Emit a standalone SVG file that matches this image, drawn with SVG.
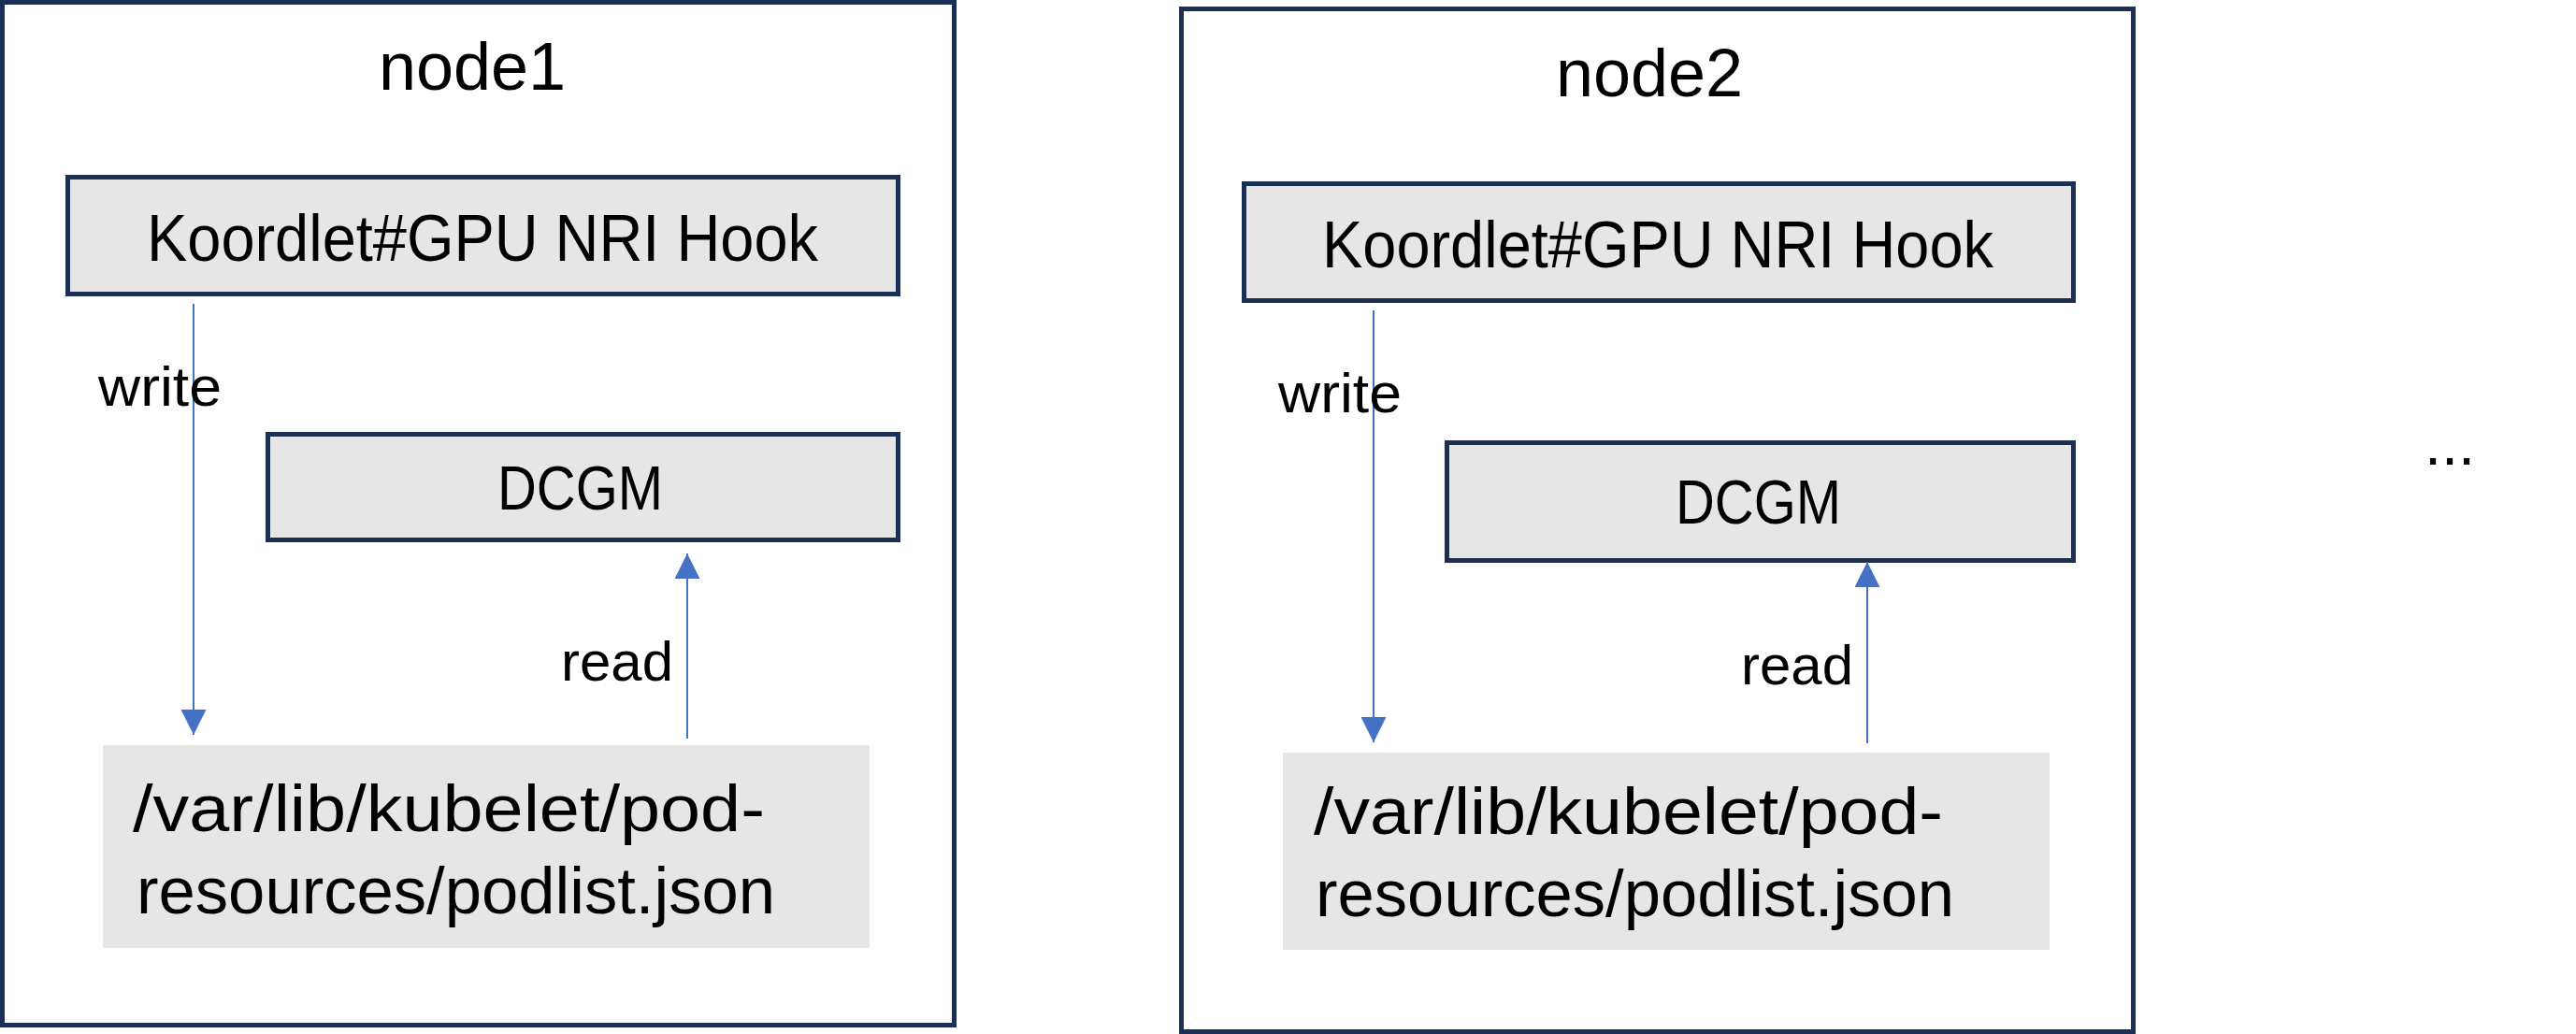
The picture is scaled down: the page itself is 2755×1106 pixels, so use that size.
<svg xmlns="http://www.w3.org/2000/svg" width="2755" height="1106" viewBox="0 0 2755 1106">
<style>
.frame{fill:#ffffff;stroke:#1b2f54;stroke-width:5}
.box{fill:#e6e6e6;stroke:#1b2f54;stroke-width:5}
.file{fill:#e6e6e6;stroke:none}
.t{font-family:"Liberation Sans",Arial,sans-serif;fill:#000000}
.conn{stroke:#4472c4;stroke-width:2;fill:none;marker-end:url(#ah)}
</style>
<defs>
<marker id="ah" viewBox="0 0 28 27" refX="27" refY="13.5" markerWidth="28" markerHeight="27" markerUnits="userSpaceOnUse" orient="auto">
<path d="M0,0 L27,13.5 L0,27 Z" fill="#4472c4"/>
</marker>
</defs>
<rect width="2755" height="1106" fill="#ffffff"/>
<g id="node1">
<rect class="frame" x="2.5" y="2.5" width="1018" height="1094"/>
<text class="t" x="505" y="96" font-size="72" text-anchor="middle">node1</text>
</g>
<g id="node1-koordlet">
<rect class="box" x="72.5" y="189.5" width="888" height="125"/>
<text class="t" x="157" y="279" font-size="70" textLength="718" lengthAdjust="spacingAndGlyphs">Koordlet#GPU NRI Hook</text>
</g>
<g id="node1-dcgm">
<rect class="box" x="286.5" y="464.5" width="674" height="113"/>
<text class="t" x="532" y="545" font-size="66" textLength="177" lengthAdjust="spacingAndGlyphs">DCGM</text>
</g>
<g id="node1-podlist">
<rect class="file" x="110" y="797" width="820" height="217"/>
<text class="t" x="142" y="889" font-size="70" textLength="676" lengthAdjust="spacingAndGlyphs">/var/lib/kubelet/pod-</text>
<text class="t" x="146" y="977" font-size="70" textLength="683" lengthAdjust="spacingAndGlyphs">resources/podlist.json</text>
</g>
<g id="node2">
<rect class="frame" x="1263.5" y="9.5" width="1018" height="1094"/>
<text class="t" x="1764" y="103" font-size="72" text-anchor="middle">node2</text>
</g>
<g id="node2-koordlet">
<rect class="box" x="1330.5" y="196.5" width="887" height="125"/>
<text class="t" x="1414" y="286" font-size="70" textLength="718" lengthAdjust="spacingAndGlyphs">Koordlet#GPU NRI Hook</text>
</g>
<g id="node2-dcgm">
<rect class="box" x="1547.5" y="473.5" width="670" height="126"/>
<text class="t" x="1792" y="560" font-size="66" textLength="177" lengthAdjust="spacingAndGlyphs">DCGM</text>
</g>
<g id="node2-podlist">
<rect class="file" x="1372" y="805" width="820" height="211"/>
<text class="t" x="1405" y="892" font-size="70" textLength="673" lengthAdjust="spacingAndGlyphs">/var/lib/kubelet/pod-</text>
<text class="t" x="1407" y="980" font-size="70" textLength="683" lengthAdjust="spacingAndGlyphs">resources/podlist.json</text>
</g>
<g id="more">
<text class="t" x="2593" y="497" font-size="65">...</text>
</g>
<g id="connectors">
<line class="conn" x1="207" y1="325" x2="207" y2="786"/>
<line class="conn" x1="735" y1="790" x2="735" y2="592"/>
<line class="conn" x1="1469" y1="332" x2="1469" y2="794"/>
<line class="conn" x1="1997" y1="795" x2="1997" y2="601"/>
<text class="t" x="105" y="434" font-size="60" textLength="132" lengthAdjust="spacingAndGlyphs">write</text>
<text class="t" x="600" y="728" font-size="60" textLength="120" lengthAdjust="spacingAndGlyphs">read</text>
<text class="t" x="1367" y="441" font-size="60" textLength="132" lengthAdjust="spacingAndGlyphs">write</text>
<text class="t" x="1862" y="732" font-size="60" textLength="120" lengthAdjust="spacingAndGlyphs">read</text>
</g>
</svg>
